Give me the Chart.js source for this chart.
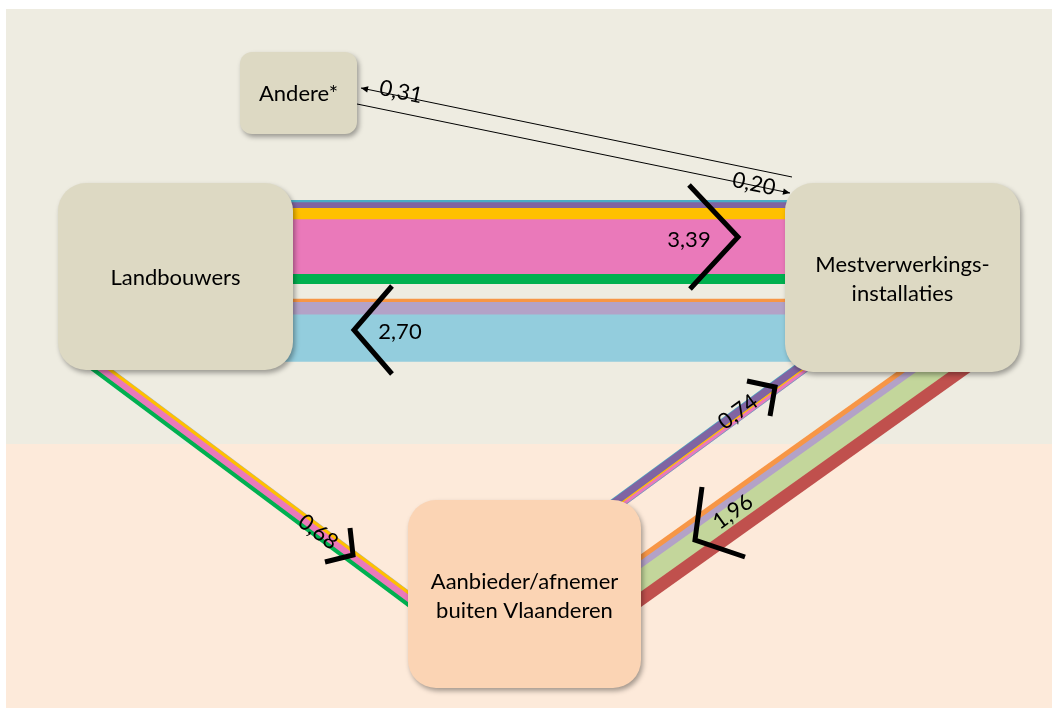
<!DOCTYPE html>
<html>
<head>
<meta charset="utf-8">
<script src="https://cdn.jsdelivr.net/npm/chart.js@4.4.1/dist/chart.umd.min.js"></script>
<style>
  html, body { margin: 0; padding: 0; background: #fff; }
  canvas { display: block; }
</style>
</head>
<body>
<canvas id="flows" width="1052" height="708"></canvas>
<script>
// ---- data ----
const nodeNames = ["Andere*", "Landbouwers", "Mestverwerkings-\ninstallaties", "Aanbieder/afnemer\nbuiten Vlaanderen"];
const flowLabels = ["3,39", "2,70", "0,68", "0,74", "1,96", "0,31", "0,20"];
const flowTotals = [3.39, 2.70, 0.68, 0.74, 1.96, 0.31, 0.20];

// shares of each flow, top/left stripe first
const landToMest = [0.09, 0.23, 0.46, 2.21, 0.40];
const mestToLand = [0.14, 0.54, 2.02];
const landToBuiten = [0.02, 0.16, 0.30, 0.20];
const buitenToMest = [0.04, 0.41, 0.08, 0.17, 0.04];
const mestToBuiten = [0.23, 0.29, 0.86, 0.58];

// ---- styles ----
const C = {
  teal: "#4bacc6", purple: "#8064a2", yellow: "#ffc000", pink: "#ea79ba",
  green: "#00b050", orange: "#f79646", lilac: "#b3a2c7", sky: "#93cddd",
  lime: "#c3d69b", red: "#c0504d", edge: "#9fb6cf"
};
const landToMestColors = [C.teal, C.purple, C.yellow, C.pink, C.green];
const mestToLandColors = [C.orange, C.lilac, C.sky];
const landToBuitenColors = [C.edge, C.yellow, C.pink, C.green];
const buitenToMestColors = [C.teal, C.purple, C.yellow, C.pink, C.teal];
const mestToBuitenColors = [C.orange, C.lilac, C.lime, C.red];

const FONT = "Lato, 'Open Sans', sans-serif";
const W = 1052, H = 708;

// ---- layout (canvas units) ----
const boxes = [
  { x: 240, y: 52, w: 117, h: 82, r: 12, fill: "#ddd9c3" },
  { x: 58, y: 183, w: 235, h: 187, r: 28, fill: "#ddd9c3" },
  { x: 785, y: 183, w: 235, h: 189, r: 28, fill: "#ddd9c3" },
  { x: 408, y: 500, w: 233, h: 188, r: 28, fill: "#fbd4b4" }
];
const bands = [
  { from: [280, 242], to: [800, 242], width: 84 },
  { from: [280, 330.2], to: [800, 330.2], width: 63 },
  { from: [90, 361], to: [420, 607.5], width: 14 },
  { from: [605, 512], to: [815, 358], width: 13 },
  { from: [625, 592], to: [965, 349.5], width: 43 }
];
const thinLines = [
  { from: [792, 177], to: [361, 88] },
  { from: [357, 104], to: [790, 193] }
];
const chevrons = [
  [[689, 185], [738, 237], [690, 289]],
  [[392, 286], [354, 330], [392, 374]],
  [[350, 528], [353, 555], [325, 562]],
  [[747, 381], [775, 387], [770, 416]],
  [[702, 487], [695, 540], [745, 557]]
];
const labelSpots = [
  { x: 689, y: 240, rot: 0 },
  { x: 400, y: 332, rot: 0 },
  { x: 318, y: 532, rot: 36.7 },
  { x: 738, y: 412, rot: -36 },
  { x: 733, y: 512, rot: -35.5 },
  { x: 401, y: 92, rot: 11.7 },
  { x: 754, y: 184, rot: 11.7 }
];

function bandDatasets(band, parts, colors) {
  const [ax, ay] = band.from, [bx, by] = band.to;
  const len = Math.hypot(bx - ax, by - ay);
  const nx = -(by - ay) / len, ny = (bx - ax) / len;
  const total = parts.reduce((s, v) => s + v, 0);
  let acc = -band.width / 2;
  return parts.map((v, i) => {
    const w = v / total * band.width;
    const extra = i < parts.length - 1 ? 0.8 : 0;
    const off = acc + (w + extra) / 2;
    acc += w;
    return {
      data: [{ x: ax + nx * off, y: ay + ny * off }, { x: bx + nx * off, y: by + ny * off }],
      borderColor: colors[i],
      borderWidth: w + extra,
      borderCapStyle: "butt",
      pointRadius: 0,
      clip: false
    };
  });
}

const datasets = [
  ...bandDatasets(bands[0], landToMest, landToMestColors),
  ...bandDatasets(bands[1], mestToLand, mestToLandColors),
  ...bandDatasets(bands[2], landToBuiten, landToBuitenColors),
  ...bandDatasets(bands[3], buitenToMest, buitenToMestColors),
  ...bandDatasets(bands[4], mestToBuiten, mestToBuitenColors),
  ...thinLines.map((l) => ({
    data: [{ x: l.from[0], y: l.from[1] }, { x: l.to[0], y: l.to[1] }],
    borderColor: "#000", borderWidth: 1, pointRadius: 0, clip: false
  })),
  ...chevrons.map((pts) => ({
    data: pts.map(([x, y]) => ({ x, y })),
    borderColor: "#000", borderWidth: 5, borderJoinStyle: "miter",
    borderCapStyle: "butt", pointRadius: 0, clip: false
  }))
];
// chart.js paints the highest order first, so later entries end up on top
datasets.forEach((d, i) => { d.order = datasets.length - i; });

const backdrop = {
  id: "backdrop",
  beforeDatasetsDraw(chart) {
    const { ctx, scales: { x, y } } = chart;
    ctx.save();
    ctx.fillStyle = "#fff";
    ctx.fillRect(0, 0, W, H);
    ctx.fillStyle = "#eeece1";
    ctx.fillRect(x.getPixelForValue(6), y.getPixelForValue(9), x.getPixelForValue(W) - x.getPixelForValue(6), y.getPixelForValue(444) - y.getPixelForValue(9));
    ctx.fillStyle = "#fdeada";
    ctx.fillRect(x.getPixelForValue(6), y.getPixelForValue(444), x.getPixelForValue(W) - x.getPixelForValue(6), y.getPixelForValue(H) - y.getPixelForValue(444));
    ctx.restore();
  }
};

const nodes = {
  id: "nodes",
  afterDatasetsDraw(chart) {
    const { ctx, scales: { x, y } } = chart;
    const px = (v) => x.getPixelForValue(v), py = (v) => y.getPixelForValue(v);

    // arrow heads on the thin lines
    thinLines.forEach((l) => {
      const tx = px(l.to[0]), ty = py(l.to[1]);
      const a = Math.atan2(ty - py(l.from[1]), tx - px(l.from[0]));
      ctx.save();
      ctx.translate(tx, ty);
      ctx.rotate(a);
      ctx.beginPath();
      ctx.moveTo(0, 0);
      ctx.lineTo(-7, -3.2);
      ctx.lineTo(-7, 3.2);
      ctx.closePath();
      ctx.fillStyle = "#000";
      ctx.fill();
      ctx.restore();
    });

    // boxes
    boxes.forEach((b, i) => {
      const bx = px(b.x), by = py(b.y), bw = px(b.x + b.w) - bx, bh = py(b.y + b.h) - by;
      ctx.save();
      ctx.shadowColor = "rgba(0,0,0,0.35)";
      ctx.shadowBlur = 5;
      ctx.shadowOffsetX = 2;
      ctx.shadowOffsetY = 3;
      ctx.beginPath();
      ctx.roundRect(bx, by, bw, bh, b.r);
      ctx.fillStyle = b.fill;
      ctx.fill();
      ctx.restore();

      const lines = nodeNames[i].split("\n");
      ctx.save();
      ctx.fillStyle = "#000";
      ctx.font = `22px ${FONT}`;
      ctx.textAlign = "center";
      ctx.textBaseline = "middle";
      const cy = by + bh / 2 + (lines.length > 1 ? 2 : 1);
      lines.forEach((t, k) => {
        ctx.fillText(t, bx + bw / 2, cy + (k - (lines.length - 1) / 2) * 29);
      });
      ctx.restore();
    });

    // flow values
    flowLabels.forEach((t, i) => {
      const s = labelSpots[i];
      ctx.save();
      ctx.translate(px(s.x), py(s.y));
      ctx.rotate(s.rot * Math.PI / 180);
      ctx.fillStyle = "#000";
      ctx.font = `22px ${FONT}`;
      ctx.textAlign = "center";
      ctx.textBaseline = "middle";
      ctx.fillText(t, 0, 0);
      ctx.restore();
    });
  }
};

new Chart(document.getElementById("flows"), {
  type: "line",
  data: { datasets },
  options: {
    responsive: false,
    animation: false,
    events: [],
    layout: { padding: 0 },
    plugins: { legend: { display: false }, tooltip: { enabled: false } },
    elements: { line: { tension: 0 } },
    scales: {
      x: { type: "linear", min: 0, max: W, display: false },
      y: { type: "linear", min: 0, max: H, reverse: true, display: false }
    }
  },
  plugins: [backdrop, nodes]
});
</script>
</body>
</html>
